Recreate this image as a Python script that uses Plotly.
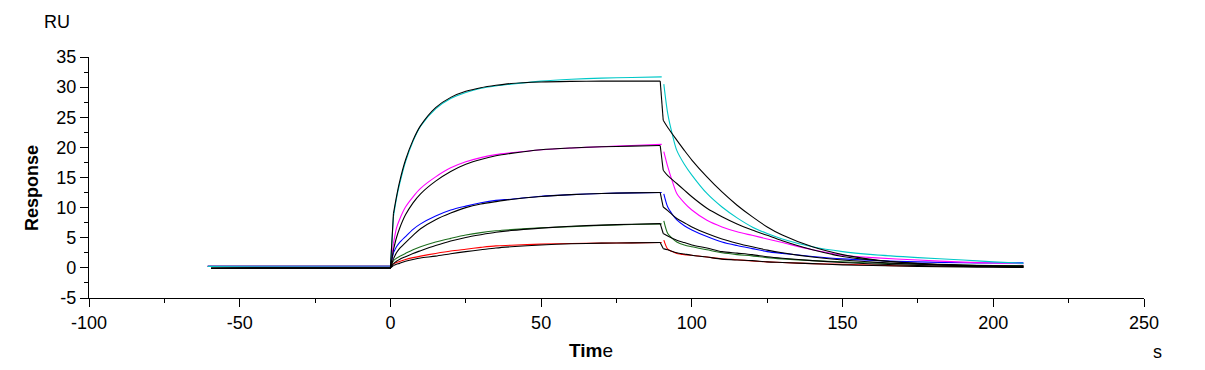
import plotly.graph_objects as go

# ---------------- data ----------------
# time grids (s)
T_BASE_DATA = [-60.6, 0]
T_BASE_FIT = [-59.5, 0]
T_ASSOC = [0, 1, 2, 3, 5, 7.5, 10, 15, 20, 25, 30, 35, 40, 50, 60, 70, 80, 90]
T_FIT_ASSOC = [0, 1, 2, 3, 5, 7.5, 10, 15, 20, 25, 30, 35, 40, 50, 60, 70, 80, 89.5]
T_DATA_DISS = [90.7, 92, 93.5, 95, 97.5, 100, 105, 110, 115, 120, 125, 130, 140, 150, 160, 175, 190, 200, 210]
T_FIT_DISS = [90.5, 92, 95, 97.5, 100, 105, 110, 115, 120, 125, 130, 140, 150, 160, 175, 190, 200, 210]

BASE_DATA = 0.25
BASE_FIT = -0.05

series_names = ["c5", "c4", "c3", "c2", "c1"]
series_colors = ["#00c8c8", "#ff00ff", "#0000ff", "#1e6e1e", "#ff0000"]

# measured responses (RU) - association
cyan_assoc = [0.3, 8.5, 11.5, 13.8, 17.6, 21.0, 23.5, 26.4, 28.1, 29.1, 29.8, 30.2, 30.5, 31.0, 31.3, 31.5, 31.6, 31.7]
magenta_assoc = [0.3, 4.0, 6.6, 8.0, 10.1, 11.8, 13.2, 15.1, 16.6, 17.6, 18.3, 18.8, 19.1, 19.6, 19.9, 20.1, 20.3, 20.5]
blue_assoc = [0.3, 2.5, 3.5, 4.2, 5.2, 6.4, 7.3, 8.6, 9.6, 10.25, 10.8, 11.2, 11.4, 11.9, 12.15, 12.35, 12.45, 12.5]
green_assoc = [0.3, 1.2, 1.6, 1.9, 2.4, 3.0, 3.5, 4.3, 4.9, 5.45, 5.85, 6.15, 6.35, 6.65, 6.85, 7.05, 7.2, 7.3]
red_assoc = [0.3, 0.7, 0.9, 1.05, 1.4, 1.7, 1.95, 2.4, 2.8, 3.1, 3.4, 3.65, 3.75, 3.95, 4.05, 4.1, 4.15, 4.2]

# measured responses (RU) - dissociation
cyan_diss = [30.5, 25.6, 22.2, 19.5, 17.2, 15.4, 12.35, 10.1, 8.3, 6.8, 5.7, 4.8, 3.5, 2.7, 2.2, 1.7, 1.3, 1.0, 0.75]
magenta_diss = [19.3, 16.8, 14.4, 12.35, 10.8, 9.6, 7.9, 6.8, 6.0, 5.4, 4.8, 4.2, 3.0, 2.1, 1.7, 1.3, 0.95, 0.8, 0.7]
blue_diss = [12.3, 10.1, 8.9, 7.95, 7.0, 6.3, 5.2, 4.3, 3.7, 3.2, 2.7, 2.4, 1.9, 1.5, 1.25, 1.0, 0.85, 0.8, 0.85]
green_diss = [7.8, 5.7, 4.9, 4.3, 3.8, 3.5, 3.0, 2.5, 2.2, 2.0, 1.7, 1.5, 1.2, 1.0, 0.8, 0.6, 0.45, 0.4, 0.4]
red_diss = [4.6, 3.1, 2.7, 2.4, 2.2, 2.1, 1.8, 1.5, 1.35, 1.15, 1.0, 0.9, 0.7, 0.6, 0.45, 0.3, 0.25, 0.25, 0.25]

# fitted curves (black) - association
cyan_fit_assoc = [0, 9.0, 11.8, 14.2, 17.9, 21.2, 23.6, 26.6, 28.3, 29.3, 29.9, 30.3, 30.6, 30.85, 30.95, 31.0, 31.0, 31.0]
magenta_fit_assoc = [0, 3.0, 5.0, 6.5, 8.8, 10.8, 12.3, 14.4, 16.0, 17.2, 18.0, 18.6, 19.0, 19.6, 19.9, 20.1, 20.2, 20.3]
blue_fit_assoc = [0, 1.5, 2.5, 3.2, 4.2, 5.4, 6.5, 8.0, 9.1, 10.0, 10.6, 11.0, 11.35, 11.85, 12.15, 12.35, 12.45, 12.5]
green_fit_assoc = [0, 0.7, 1.1, 1.4, 1.85, 2.4, 2.85, 3.7, 4.45, 5.05, 5.5, 5.9, 6.2, 6.6, 6.9, 7.1, 7.25, 7.35]
red_fit_assoc = [0, 0.4, 0.6, 0.75, 1.1, 1.4, 1.65, 1.95, 2.35, 2.7, 3.0, 3.3, 3.5, 3.8, 4.0, 4.1, 4.15, 4.2]

# fitted curves (black) - dissociation
cyan_fit_diss = [24.5, 23.3, 21.2, 19.5, 17.9, 15.1, 12.6, 10.4, 8.5, 6.8, 5.45, 3.5, 2.2, 1.4, 0.7, 0.35, 0.25, 0.1]
magenta_fit_diss = [16.2, 15.3, 14.0, 12.9, 11.8, 9.9, 8.5, 7.3, 6.3, 5.4, 4.5, 3.0, 1.9, 1.3, 0.75, 0.45, 0.35, 0.3]
blue_fit_diss = [10.1, 9.5, 8.2, 7.5, 6.8, 5.7, 4.8, 4.1, 3.5, 2.95, 2.5, 1.8, 1.3, 0.95, 0.6, 0.4, 0.3, 0.25]
green_fit_diss = [5.7, 5.3, 4.6, 4.2, 3.8, 3.3, 2.7, 2.45, 2.2, 1.85, 1.6, 1.2, 0.9, 0.65, 0.4, 0.25, 0.2, 0.15]
red_fit_diss = [3.2, 3.0, 2.5, 2.3, 2.1, 1.8, 1.45, 1.3, 1.2, 1.0, 0.9, 0.7, 0.5, 0.4, 0.25, 0.15, 0.1, 0.05]

X_TICKS = [-100, -50, 0, 50, 100, 150, 200, 250]
X_TICK_LABELS = ["-100", "-50", "0", "50", "100", "150", "200", "250"]
Y_TICKS = [-5, 0, 5, 10, 15, 20, 25, 30, 35]
Y_TICK_LABELS = ["-5", "0", "5", "10", "15", "20", "25", "30", "35"]

data_assoc = [cyan_assoc, magenta_assoc, blue_assoc, green_assoc, red_assoc]
data_diss = [cyan_diss, magenta_diss, blue_diss, green_diss, red_diss]
fit_assoc = [cyan_fit_assoc, magenta_fit_assoc, blue_fit_assoc, green_fit_assoc, red_fit_assoc]
fit_diss = [cyan_fit_diss, magenta_fit_diss, blue_fit_diss, green_fit_diss, red_fit_diss]

# ---------------- figure ----------------
fig = go.Figure()
LW = 1.1


def add(x, y, color, shape):
    fig.add_trace(go.Scatter(x=x, y=y, mode="lines", showlegend=False, hoverinfo="skip",
                             line=dict(color=color, width=LW, shape=shape,
                                       smoothing=0.8 if shape == "spline" else None)))


# measured curves (drawn in reverse so cyan ends on top of baseline)
for i in reversed(range(len(series_names))):
    c = series_colors[i]
    a = data_assoc[i]
    add(T_BASE_DATA + T_ASSOC[1:2], [BASE_DATA, a[0], a[1]], c, "linear")
    add(T_ASSOC[1:], a[1:], c, "spline")
    add(T_DATA_DISS, data_diss[i], c, "spline")

# fitted curves in black
for i in range(len(series_names)):
    fa = fit_assoc[i]
    fd = fit_diss[i]
    add(T_BASE_FIT + T_FIT_ASSOC[1:2], [BASE_FIT, fa[0], fa[1]], "black", "linear")
    add(T_FIT_ASSOC[1:], fa[1:], "black", "spline")
    add([T_FIT_ASSOC[-1], T_FIT_DISS[0]], [fa[-1], fd[0]], "black", "linear")
    add(T_FIT_DISS, fd, "black", "spline")

FONT = "Liberation Sans, Arial, sans-serif"
axis_common = dict(showgrid=False, zeroline=False, showline=True, linecolor="black", linewidth=1.3,
                   ticks="outside", tickcolor="black", tickwidth=1.2, automargin=False,
                   tickfont=dict(family=FONT, size=18, color="black"))

fig.update_xaxes(range=[-100, 250], tickvals=X_TICKS, ticktext=X_TICK_LABELS, ticklen=8,
                 minor=dict(dtick=25, tick0=0, ticks="outside", ticklen=4, tickcolor="black", tickwidth=1),
                 **axis_common)
fig.update_yaxes(range=[-5, 35], tickvals=Y_TICKS, ticktext=Y_TICK_LABELS, ticklen=8,
                 minor=dict(dtick=2.5, tick0=0, ticks="outside", ticklen=4, tickcolor="black", tickwidth=1),
                 **axis_common)

# page body has an 8px margin, so the figure is drawn 8px smaller / shifted
fig.update_layout(
    width=1197, height=362,
    margin=dict(l=81, r=61, t=49, b=72),
    plot_bgcolor="white", paper_bgcolor="white",
    annotations=[
        dict(text="RU", xref="paper", yref="paper", x=0, y=1, xanchor="center", yanchor="middle",
             xshift=-32, yshift=35, showarrow=False, font=dict(family=FONT, size=18, color="black")),
        dict(text="<b>Response</b>", xref="paper", yref="paper", x=0, y=0.456, xanchor="center",
             yanchor="middle", xshift=-57, textangle=-90, showarrow=False,
             font=dict(family=FONT, size=18, color="black")),
        dict(text="<b>Tim</b>e", xref="paper", yref="paper", x=0.476, y=0, xanchor="center",
             yanchor="middle", yshift=-52, showarrow=False, font=dict(family=FONT, size=19, color="black")),
        dict(text="s", xref="paper", yref="paper", x=1.013, y=0, xanchor="center",
             yanchor="middle", yshift=-54, showarrow=False, font=dict(family=FONT, size=18, color="black")),
    ],
)

fig.write_html("out.html")
